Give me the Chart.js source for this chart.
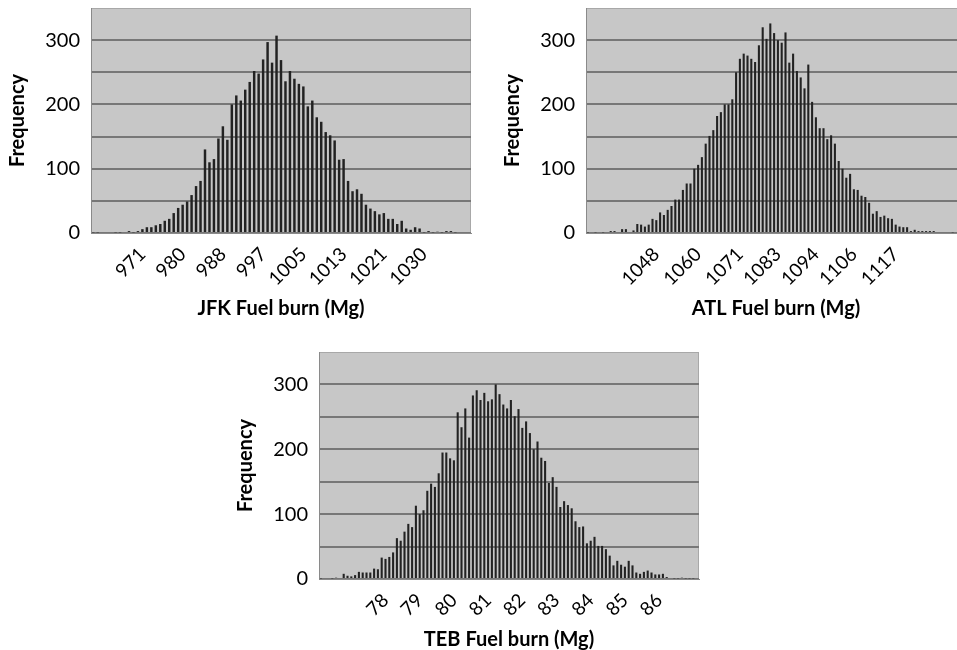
<!DOCTYPE html>
<html>
<head>
<meta charset="utf-8">
<script src="https://cdn.jsdelivr.net/npm/chart.js@4.4.1/dist/chart.umd.min.js"></script>
<style>
  html, body { margin: 0; padding: 0; background: #fff; }
  body { position: relative; width: 957px; height: 650px; overflow: hidden; }
  canvas { position: absolute; }
</style>
</head>
<body>
<canvas id="jfk" width="480" height="322" style="left:0;top:0"></canvas>
<canvas id="atl" width="480" height="322" style="left:495px;top:0"></canvas>
<canvas id="teb" width="480" height="309" style="left:228px;top:344px"></canvas>
<script>
// frequencies per bin
const jfkFreq = [1, 1, 0, 0, 0, 1, 1, 0, 3, 1, 3, 6, 9, 9, 12, 14, 19, 22, 31, 39,
  44, 49, 59, 73, 81, 130, 110, 115, 147, 166, 145, 200, 214, 206, 223, 235, 252, 248, 270, 297,
  265, 307, 269, 236, 252, 240, 232, 228, 197, 206, 180, 173, 157, 152, 144, 114, 115, 81, 65, 68,
  61, 44, 38, 34, 29, 31, 22, 22, 14, 19, 7, 5, 9, 7, 1, 3, 1, 2, 1, 3, 3, 1, 0, 0, 0];
const jfkTickText = ['971', '980', '988', '997', '1005', '1013', '1021', '1030'];
const jfkTickBins = [11, 20, 29, 38, 47, 56, 65, 74];

const atlFreq = [1, 0, 1, 0, 1, 0, 3, 3, 0, 6, 6, 0, 4, 14, 13, 10, 13, 22, 20, 32,
  28, 36, 42, 52, 52, 67, 77, 77, 100, 106, 118, 139, 151, 160, 182, 188, 200, 200, 208, 250,
  271, 279, 276, 271, 266, 292, 320, 302, 326, 311, 300, 296, 312, 265, 279, 252, 242, 225, 262, 204,
  180, 163, 163, 146, 152, 139, 112, 100, 86, 92, 68, 67, 58, 56, 47, 30, 34, 25, 27, 23,
  22, 13, 10, 9, 9, 3, 5, 3, 3, 3, 3, 3, 0, 0, 0, 0, 1, 0, 0, 0];
const atlTickText = ['1048', '1060', '1071', '1083', '1094', '1106', '1117'];
const atlTickBins = [18, 29, 40, 50, 60, 70, 81];

const tebFreq = [1, 0, 0, 1, 2, 0, 8, 5, 4, 6, 11, 10, 10, 10, 16, 15, 33, 31, 34, 41,
  63, 59, 73, 85, 80, 113, 100, 106, 136, 147, 142, 163, 195, 195, 186, 183, 257, 234, 263, 218,
  283, 291, 276, 287, 274, 277, 300, 285, 269, 263, 276, 251, 262, 233, 243, 225, 200, 212, 187, 182,
  148, 157, 142, 111, 120, 114, 109, 89, 80, 81, 55, 59, 65, 51, 51, 46, 36, 21, 28, 22,
  19, 28, 21, 10, 8, 11, 13, 10, 7, 7, 8, 3, 0, 1, 1, 2, 1, 1, 1, 0];
const tebTickText = ['78', '79', '80', '81', '82', '83', '84', '85', '86'];
const tebTickBins = [17, 26, 35, 44, 53, 62, 71, 80, 89];

const yTickLabels = [0, 100, 200, 300];

const plotBg = {
  id: 'plotBg',
  beforeDraw(chart) {
    const { ctx, chartArea: a } = chart;
    ctx.save();
    ctx.fillStyle = '#c7c7c7';
    ctx.fillRect(a.left, a.top, a.right - a.left, a.bottom - a.top);
    ctx.strokeStyle = '#a8a8a8';
    ctx.lineWidth = 1;
    ctx.strokeRect(a.left + 0.5, a.top + 0.5, a.right - a.left - 1, a.bottom - a.top - 1);
    ctx.restore();
  }
};

function makeHist(id, freq, tickText, tickBins, title, xHeight) {
  const labels = freq.map((v, i) => {
    const k = tickBins.indexOf(i);
    return k >= 0 ? tickText[k] : '';
  });
  return new Chart(document.getElementById(id), {
    type: 'bar',
    data: {
      labels,
      datasets: [{
        data: freq,
        backgroundColor: '#222',
        borderWidth: 0,
        barPercentage: 0.55,
        categoryPercentage: 1
      }]
    },
    options: {
      responsive: false,
      animation: false,
      layout: { padding: { top: 8, right: 9, left: 0, bottom: 0 } },
      plugins: { legend: { display: false }, tooltip: { enabled: false } },
      scales: {
        x: {
          grid: { display: false, drawTicks: false },
          border: { display: true, color: '#8a8a8a', width: 1 },
          ticks: {
            autoSkip: false, maxRotation: 45, minRotation: 45, padding: 10,
            color: '#000', font: { family: 'Lato', size: 19 }
          },
          title: {
            display: true, text: title, color: '#000',
            font: { family: 'Lato', size: 20, weight: 'bold' },
            padding: { top: 0, bottom: 1 }
          },
          afterFit(s) {
            s.height = xHeight;
            s.paddingLeft = 0;
            s.paddingRight = 0;
          }
        },
        y: {
          min: 0, max: 350,
          ticks: {
            stepSize: 50, padding: 11, color: '#000',
            font: { family: 'Lato', size: 20 },
            callback: v => yTickLabels.includes(v) ? String(v) : ''
          },
          grid: {
            drawTicks: false, lineWidth: 2,
            color: c => c.tick.value === 350 ? 'rgba(0,0,0,0)' : '#777'
          },
          border: { display: true, color: '#8a8a8a', width: 1 },
          title: {
            display: true, text: 'Frequency', color: '#000',
            font: { family: 'Lato', size: 20, weight: 'bold' },
            padding: { top: 6, bottom: 0 }
          },
          afterFit(s) {
            s.width = 91;
            s.paddingTop = 0;
            s.paddingBottom = 0;
          }
        }
      }
    },
    plugins: [plotBg]
  });
}

makeHist('jfk', jfkFreq, jfkTickText, jfkTickBins, 'JFK Fuel burn (Mg)', 89);
makeHist('atl', atlFreq, atlTickText, atlTickBins, 'ATL Fuel burn (Mg)', 89);
makeHist('teb', tebFreq, tebTickText, tebTickBins, 'TEB Fuel burn (Mg)', 74);
</script>
</body>
</html>
